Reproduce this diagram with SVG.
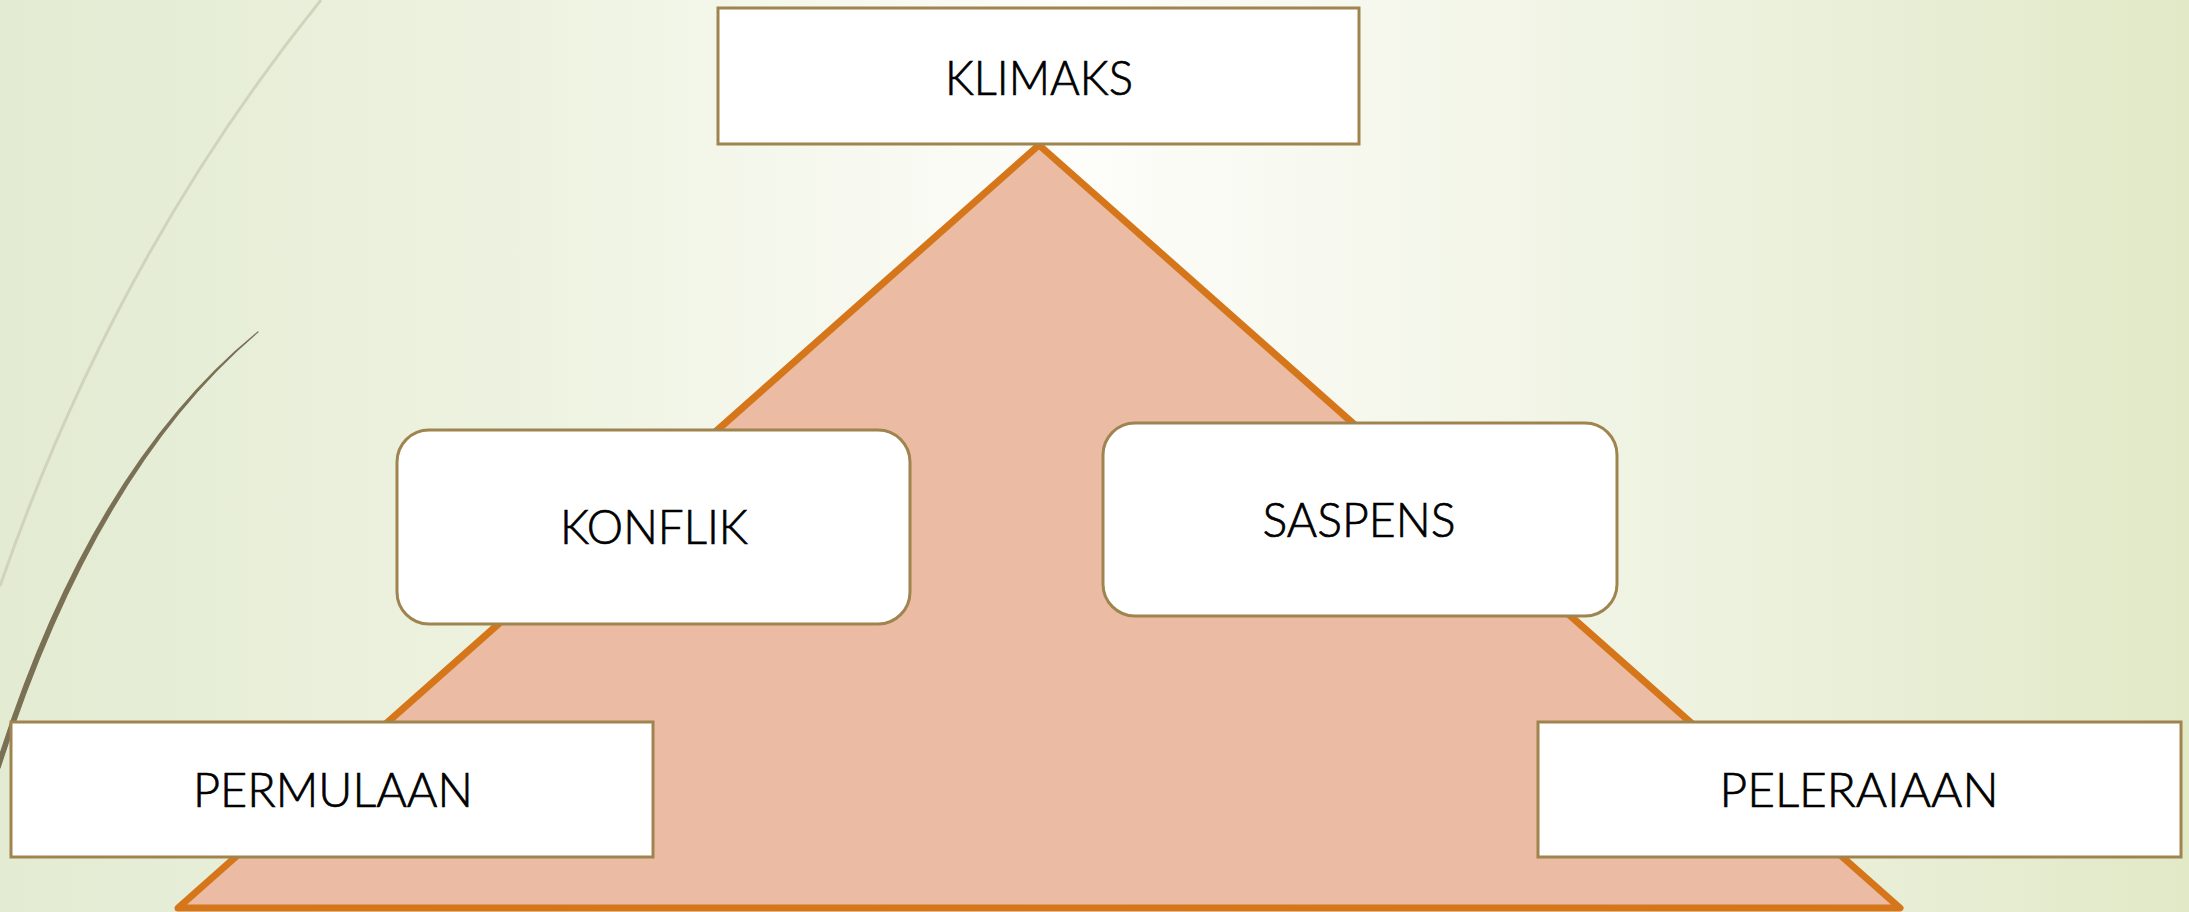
<svg xmlns="http://www.w3.org/2000/svg" width="2189" height="912" viewBox="0 0 2189 912">
<defs>
<linearGradient id="bg" x1="0" y1="0" x2="1" y2="0">
<stop offset="0" stop-color="#E3EBD2"/>
<stop offset="0.25" stop-color="#EEF3E1"/>
<stop offset="0.49" stop-color="#FDFDFA"/>
<stop offset="0.75" stop-color="#EFF3E2"/>
<stop offset="1" stop-color="#E1E9C7"/>
</linearGradient>
<style>
.box{fill:#FFFFFF;stroke:#A0844F;stroke-width:3}
.lbl{font-family:Lato,"Open Sans","Liberation Sans",sans-serif;font-weight:300;font-size:47px;fill:#000000;stroke:#000000;stroke-width:0.7;text-anchor:middle}
</style>
</defs>
<rect x="0" y="0" width="2189" height="912" fill="url(#bg)"/>
<g id="decor">
<path d="M321,0 Q115,255 0,586" fill="none" stroke="#D0D4BC" stroke-width="3"/>
<path d="M258,332 Q95,470 0,768 L0,754 Q93,466 258,332 Z" fill="#7A7055" stroke="#7A7055" stroke-width="1.2" stroke-linejoin="round"/>
</g>
<g id="pyramid">
<polygon points="1039,145 1900,908 178,908" fill="#EBBBA3" stroke="#D6761A" stroke-width="7" stroke-linejoin="round"/>
</g>
<g id="connectors"></g>
<g id="klimaks">
<rect class="box" x="718" y="8" width="641" height="136"/>
<text class="lbl" x="1039" y="95" textLength="188" lengthAdjust="spacingAndGlyphs">KLIMAKS</text>
</g>
<g id="konflik">
<rect class="box" x="397" y="430" width="513" height="194" rx="32" ry="32"/>
<text class="lbl" x="654" y="544" textLength="188" lengthAdjust="spacingAndGlyphs">KONFLIK</text>
</g>
<g id="saspens">
<rect class="box" x="1103" y="423" width="514" height="193" rx="32" ry="32"/>
<text class="lbl" x="1359" y="537" textLength="193" lengthAdjust="spacingAndGlyphs">SASPENS</text>
</g>
<g id="permulaan">
<rect class="box" x="11" y="722" width="642" height="135"/>
<text class="lbl" x="333" y="807" textLength="280" lengthAdjust="spacingAndGlyphs">PERMULAAN</text>
</g>
<g id="peleraiaan">
<rect class="box" x="1538" y="722" width="643" height="135"/>
<text class="lbl" x="1859" y="807" textLength="279" lengthAdjust="spacingAndGlyphs">PELERAIAAN</text>
</g>
</svg>
